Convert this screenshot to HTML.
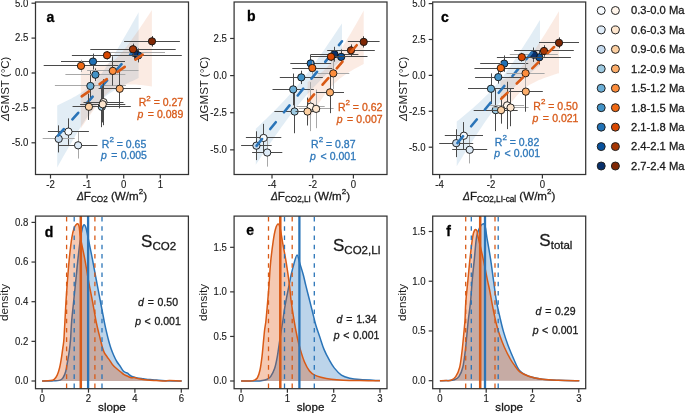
<!DOCTYPE html><html><head><meta charset="utf-8"><style>html,body{margin:0;padding:0;background:#fff;overflow:hidden}svg{display:block;will-change:transform}text{font-family:"Liberation Sans",sans-serif}</style></head><body>
<svg width="685" height="413" viewBox="0 0 685 413">
<rect width="685" height="413" fill="#fff"/>
<clipPath id="clipa"><rect x="35.5" y="2" width="153" height="172.5"/></clipPath>
<g clip-path="url(#clipa)">
<polygon points="57.2,105.41 59.23,104.46 61.27,103.5 63.3,102.52 65.34,101.53 67.38,100.51 69.41,99.47 71.45,98.4 73.48,97.31 75.52,96.17 77.55,94.99 79.59,93.75 81.62,92.45 83.66,91.08 85.69,89.61 87.72,88.04 89.76,86.35 91.8,84.52 93.83,82.53 95.87,80.38 97.9,78.07 99.94,75.58 101.97,72.94 104,70.15 106.04,67.23 108.07,64.19 110.11,61.05 112.14,57.83 114.18,54.54 116.22,51.19 118.25,47.79 120.28,44.35 122.32,40.87 124.36,37.37 126.39,33.83 128.43,30.28 130.46,26.7 132.5,23.11 134.53,19.5 136.56,15.89 138.6,12.26 138.6,78.04 136.56,78.98 134.53,79.92 132.5,80.88 130.46,81.85 128.43,82.84 126.39,83.84 124.36,84.87 122.32,85.93 120.28,87.01 118.25,88.13 116.22,89.3 114.18,90.51 112.14,91.78 110.11,93.12 108.07,94.55 106.04,96.07 104,97.71 101.97,99.49 99.94,101.4 97.9,103.48 95.87,105.73 93.83,108.14 91.8,110.72 89.76,113.45 87.72,116.32 85.69,119.32 83.66,122.41 81.62,125.6 79.59,128.86 77.55,132.19 75.52,135.57 73.48,138.99 71.45,142.46 69.41,145.95 67.38,149.48 65.34,153.02 63.3,156.59 61.27,160.18 59.23,163.78 57.2,167.39" fill="#2171b5" fill-opacity="0.13"/>
<polygon points="80.8,65.6 82.58,65.8 84.36,65.98 86.13,66.13 87.91,66.27 89.69,66.37 91.47,66.44 93.24,66.47 95.02,66.45 96.8,66.38 98.58,66.24 100.35,66.02 102.13,65.72 103.91,65.3 105.69,64.76 107.46,64.08 109.24,63.24 111.02,62.23 112.8,61.04 114.57,59.67 116.35,58.13 118.13,56.42 119.91,54.57 121.68,52.58 123.46,50.49 125.24,48.29 127.02,46.01 128.79,43.67 130.57,41.26 132.35,38.81 134.12,36.31 135.9,33.78 137.68,31.22 139.46,28.63 141.24,26.02 143.01,23.4 144.79,20.75 146.57,18.09 148.34,15.42 150.12,12.73 151.9,10.04 151.9,86.42 150.12,86.16 148.34,85.91 146.57,85.68 144.79,85.46 143.01,85.25 141.24,85.06 139.46,84.89 137.68,84.74 135.9,84.62 134.12,84.52 132.35,84.47 130.57,84.45 128.79,84.49 127.02,84.58 125.24,84.74 123.46,84.99 121.68,85.33 119.91,85.78 118.13,86.36 116.35,87.1 114.57,87.99 112.8,89.06 111.02,90.31 109.24,91.74 107.46,93.34 105.69,95.09 103.91,96.99 102.13,99.02 100.35,101.15 98.58,103.37 96.8,105.67 95.02,108.04 93.24,110.46 91.47,112.93 89.69,115.44 87.91,117.98 86.13,120.55 84.36,123.15 82.58,125.76 80.8,128.4" fill="#d94801" fill-opacity="0.11"/>
<line x1="47.9" y1="131.5" x2="88.9" y2="131.5" stroke="#4a4a4a" stroke-width="1"/>
<line x1="68.5" y1="118.37" x2="68.5" y2="144.89" stroke="#4a4a4a" stroke-width="1"/>
<line x1="58.7" y1="145.5" x2="97.5" y2="145.5" stroke="#4a4a4a" stroke-width="1"/>
<line x1="78.5" y1="132.05" x2="78.5" y2="158.57" stroke="#a8a8a8" stroke-width="1"/>
<line x1="42.7" y1="138.5" x2="74.7" y2="138.5" stroke="#a8a8a8" stroke-width="1"/>
<line x1="58.5" y1="125.35" x2="58.5" y2="152.43" stroke="#4a4a4a" stroke-width="1"/>
<line x1="72.8" y1="106.5" x2="130.8" y2="106.5" stroke="#4a4a4a" stroke-width="1"/>
<line x1="101.5" y1="86.4" x2="101.5" y2="127.16" stroke="#4a4a4a" stroke-width="1"/>
<line x1="54.9" y1="85.5" x2="125.9" y2="85.5" stroke="#a8a8a8" stroke-width="1"/>
<line x1="90.5" y1="71.05" x2="90.5" y2="100.92" stroke="#4a4a4a" stroke-width="1"/>
<line x1="65.4" y1="74.5" x2="125.4" y2="74.5" stroke="#a8a8a8" stroke-width="1"/>
<line x1="95.5" y1="68.39" x2="95.5" y2="80.96" stroke="#4a4a4a" stroke-width="1"/>
<line x1="61" y1="61.5" x2="125" y2="61.5" stroke="#4a4a4a" stroke-width="1"/>
<line x1="93.5" y1="53.6" x2="93.5" y2="69.51" stroke="#4a4a4a" stroke-width="1"/>
<line x1="94.6" y1="55.5" x2="181.8" y2="55.5" stroke="#4a4a4a" stroke-width="1"/>
<line x1="138.5" y1="48.43" x2="138.5" y2="62.39" stroke="#4a4a4a" stroke-width="1"/>
<line x1="104" y1="52.5" x2="165" y2="52.5" stroke="#a8a8a8" stroke-width="1"/>
<line x1="134.5" y1="45.92" x2="134.5" y2="59.88" stroke="#4a4a4a" stroke-width="1"/>
<circle cx="68.4" cy="131.63" r="3.65" fill="#f7fbff" stroke="#111" stroke-width="0.9"/>
<circle cx="78.1" cy="145.31" r="3.65" fill="#deebf7" stroke="#111" stroke-width="0.9"/>
<circle cx="58.7" cy="138.89" r="3.65" fill="#c6dbef" stroke="#111" stroke-width="0.9"/>
<circle cx="101.8" cy="106.78" r="3.65" fill="#9ecae1" stroke="#111" stroke-width="0.9"/>
<circle cx="90.4" cy="85.98" r="3.65" fill="#6baed6" stroke="#111" stroke-width="0.9"/>
<circle cx="95.4" cy="74.68" r="3.65" fill="#4292c6" stroke="#111" stroke-width="0.9"/>
<circle cx="93" cy="61.55" r="3.65" fill="#2171b5" stroke="#111" stroke-width="0.9"/>
<circle cx="138.2" cy="55.41" r="3.65" fill="#08519c" stroke="#111" stroke-width="0.9"/>
<circle cx="134.5" cy="52.9" r="3.65" fill="#08306b" stroke="#111" stroke-width="0.9"/>
<line x1="57.2" y1="136.4" x2="138.6" y2="45.15" stroke="#2a74b8" stroke-width="2.6" stroke-linecap="round" stroke-dasharray="8.8 12.9" stroke-dashoffset="-1.1"/>
<line x1="83.5" y1="102.5" x2="123.5" y2="102.5" stroke="#4a4a4a" stroke-width="1"/>
<line x1="103.5" y1="79.14" x2="103.5" y2="125.21" stroke="#4a4a4a" stroke-width="1"/>
<line x1="80.1" y1="104.5" x2="125.3" y2="104.5" stroke="#4a4a4a" stroke-width="1"/>
<line x1="102.5" y1="86.12" x2="102.5" y2="122.42" stroke="#4a4a4a" stroke-width="1"/>
<line x1="72.7" y1="106.5" x2="105.1" y2="106.5" stroke="#4a4a4a" stroke-width="1"/>
<line x1="88.5" y1="93.66" x2="88.5" y2="119.91" stroke="#4a4a4a" stroke-width="1"/>
<line x1="98.6" y1="88.5" x2="140.8" y2="88.5" stroke="#4a4a4a" stroke-width="1"/>
<line x1="119.5" y1="69.23" x2="119.5" y2="108.32" stroke="#4a4a4a" stroke-width="1"/>
<line x1="87.1" y1="70.5" x2="138.5" y2="70.5" stroke="#a8a8a8" stroke-width="1"/>
<line x1="112.5" y1="56.25" x2="112.5" y2="85.56" stroke="#4a4a4a" stroke-width="1"/>
<line x1="43.7" y1="65.5" x2="118.3" y2="65.5" stroke="#4a4a4a" stroke-width="1"/>
<line x1="81.5" y1="59.74" x2="81.5" y2="72.02" stroke="#a8a8a8" stroke-width="1"/>
<line x1="71.9" y1="55.5" x2="142.1" y2="55.5" stroke="#4a4a4a" stroke-width="1"/>
<line x1="107.5" y1="51.08" x2="107.5" y2="59.46" stroke="#4a4a4a" stroke-width="1"/>
<line x1="90.3" y1="49.5" x2="175.7" y2="49.5" stroke="#4a4a4a" stroke-width="1"/>
<line x1="133.5" y1="43.68" x2="133.5" y2="54.85" stroke="#4a4a4a" stroke-width="1"/>
<line x1="124.1" y1="41.5" x2="179.9" y2="41.5" stroke="#4a4a4a" stroke-width="1"/>
<line x1="152.5" y1="36.01" x2="152.5" y2="46.62" stroke="#4a4a4a" stroke-width="1"/>
<circle cx="103.5" cy="102.18" r="3.65" fill="#fff5eb" stroke="#111" stroke-width="0.9"/>
<circle cx="102.7" cy="104.27" r="3.65" fill="#fee6ce" stroke="#111" stroke-width="0.9"/>
<circle cx="88.9" cy="106.78" r="3.65" fill="#fdd0a2" stroke="#111" stroke-width="0.9"/>
<circle cx="119.7" cy="88.77" r="3.65" fill="#fdae6b" stroke="#111" stroke-width="0.9"/>
<circle cx="112.8" cy="70.91" r="3.65" fill="#fd8d3c" stroke="#111" stroke-width="0.9"/>
<circle cx="81" cy="65.88" r="3.65" fill="#f16913" stroke="#111" stroke-width="0.9"/>
<circle cx="107" cy="55.27" r="3.65" fill="#d94801" stroke="#111" stroke-width="0.9"/>
<circle cx="133" cy="49.27" r="3.65" fill="#a63603" stroke="#111" stroke-width="0.9"/>
<circle cx="152" cy="41.31" r="3.65" fill="#7f2704" stroke="#111" stroke-width="0.9"/>
<line x1="80.8" y1="97" x2="151.9" y2="48.23" stroke="#d95a16" stroke-width="2.6" stroke-linecap="round" stroke-dasharray="8.8 12.9" stroke-dashoffset="-1.1"/>
</g>
<text stroke="#d85b1a" stroke-width="0.3" x="138.7" y="106" fill="#d85b1a" font-size="10.5">R<tspan font-size="8" dy="-5.5">2</tspan><tspan dy="5.5"> = 0.27</tspan></text>
<text stroke="#d85b1a" stroke-width="0.3" x="137.4" y="117.6" fill="#d85b1a" font-size="10.5"><tspan font-style="italic">p</tspan> <tspan dx="1.6">=</tspan> <tspan dx="0.2">0.089</tspan></text>
<text stroke="#2f78ba" stroke-width="0.3" x="101.8" y="147.7" fill="#2f78ba" font-size="10.5">R<tspan font-size="8" dy="-5.5">2</tspan><tspan dy="5.5"> = 0.65</tspan></text>
<text stroke="#2f78ba" stroke-width="0.3" x="101" y="158.7" fill="#2f78ba" font-size="10.5"><tspan font-style="italic">p</tspan> <tspan dx="1.6">=</tspan> <tspan dx="0.2">0.005</tspan></text>
<rect x="35.5" y="2" width="153" height="172.5" fill="none" stroke="#333333" stroke-width="1.25"/>
<line x1="50.5" y1="174.5" x2="50.5" y2="178.5" stroke="#333333" stroke-width="1.2"/>
<text stroke="#1a1a1a" stroke-width="0.12" transform="translate(50.5,188.2) scale(1,1.07)" text-anchor="middle" font-size="9.6" fill="#1a1a1a">-2</text>
<line x1="87.1" y1="174.5" x2="87.1" y2="178.5" stroke="#333333" stroke-width="1.2"/>
<text stroke="#1a1a1a" stroke-width="0.12" transform="translate(87.1,188.2) scale(1,1.07)" text-anchor="middle" font-size="9.6" fill="#1a1a1a">-1</text>
<line x1="123.7" y1="174.5" x2="123.7" y2="178.5" stroke="#333333" stroke-width="1.2"/>
<text stroke="#1a1a1a" stroke-width="0.12" transform="translate(123.7,188.2) scale(1,1.07)" text-anchor="middle" font-size="9.6" fill="#1a1a1a">0</text>
<line x1="160.3" y1="174.5" x2="160.3" y2="178.5" stroke="#333333" stroke-width="1.2"/>
<text stroke="#1a1a1a" stroke-width="0.12" transform="translate(160.3,188.2) scale(1,1.07)" text-anchor="middle" font-size="9.6" fill="#1a1a1a">1</text>
<line x1="31.5" y1="3.2" x2="35.5" y2="3.2" stroke="#333333" stroke-width="1.2"/>
<text stroke="#1a1a1a" stroke-width="0.12" transform="translate(28.3,6.5) scale(1,1.07)" text-anchor="end" font-size="9.6" fill="#1a1a1a">5.0</text>
<line x1="31.5" y1="38.1" x2="35.5" y2="38.1" stroke="#333333" stroke-width="1.2"/>
<text stroke="#1a1a1a" stroke-width="0.12" transform="translate(28.3,41.4) scale(1,1.07)" text-anchor="end" font-size="9.6" fill="#1a1a1a">2.5</text>
<line x1="31.5" y1="73" x2="35.5" y2="73" stroke="#333333" stroke-width="1.2"/>
<text stroke="#1a1a1a" stroke-width="0.12" transform="translate(28.3,76.3) scale(1,1.07)" text-anchor="end" font-size="9.6" fill="#1a1a1a">0.0</text>
<line x1="31.5" y1="107.9" x2="35.5" y2="107.9" stroke="#333333" stroke-width="1.2"/>
<text stroke="#1a1a1a" stroke-width="0.12" transform="translate(28.3,111.2) scale(1,1.07)" text-anchor="end" font-size="9.6" fill="#1a1a1a">-2.5</text>
<line x1="31.5" y1="142.8" x2="35.5" y2="142.8" stroke="#333333" stroke-width="1.2"/>
<text stroke="#1a1a1a" stroke-width="0.12" transform="translate(28.3,146.1) scale(1,1.07)" text-anchor="end" font-size="9.6" fill="#1a1a1a">-5.0</text>
<text stroke="#000" stroke-width="0.3" x="46.5" y="21.8" font-size="14" font-weight="bold" fill="#000">a</text>
<text stroke="#1a1a1a" stroke-width="0.3" x="112" y="200.3" text-anchor="middle" font-size="11.6" fill="#1a1a1a"><tspan font-style="italic" font-size="10.2">Δ</tspan>F<tspan font-size="8.2" dy="1.6">CO2</tspan><tspan dy="-1.6"> (W/m</tspan><tspan font-size="8" dy="-6">2</tspan><tspan dy="6">)</tspan></text>
<text transform="translate(9.4,88.85) rotate(-90)" text-anchor="middle" font-size="11.5" fill="#1a1a1a"><tspan font-style="italic">Δ</tspan>GMST (°C)</text>
<clipPath id="clipb"><rect x="234.1" y="2" width="152.9" height="172.5"/></clipPath>
<g clip-path="url(#clipb)">
<polygon points="255.8,128.75 257.95,126.71 260.11,124.67 262.26,122.61 264.42,120.54 266.57,118.46 268.73,116.35 270.88,114.23 273.04,112.09 275.19,109.93 277.35,107.74 279.5,105.52 281.66,103.28 283.81,100.99 285.97,98.67 288.12,96.31 290.28,93.91 292.44,91.45 294.59,88.95 296.75,86.4 298.9,83.79 301.06,81.13 303.21,78.42 305.37,75.65 307.52,72.84 309.68,69.98 311.83,67.07 313.99,64.13 316.14,61.14 318.3,58.12 320.45,55.07 322.61,51.99 324.76,48.88 326.91,45.76 329.07,42.61 331.23,39.44 333.38,36.25 335.53,33.05 337.69,29.84 339.85,26.62 342,23.38 342,59.18 339.85,61.21 337.69,63.26 335.53,65.31 333.38,67.39 331.23,69.47 329.07,71.57 326.91,73.7 324.76,75.84 322.61,78 320.45,80.2 318.3,82.42 316.14,84.67 313.99,86.95 311.83,89.28 309.68,91.64 307.52,94.05 305.37,96.51 303.21,99.02 301.06,101.58 298.9,104.19 296.75,106.85 294.59,109.57 292.44,112.34 290.28,115.16 288.12,118.02 285.97,120.93 283.81,123.88 281.66,126.87 279.5,129.89 277.35,132.95 275.19,136.03 273.04,139.14 270.88,142.27 268.73,145.42 266.57,148.59 264.42,151.78 262.26,154.98 260.11,158.19 257.95,161.42 255.8,164.65" fill="#2171b5" fill-opacity="0.13"/>
<polygon points="307.6,82.03 309,81.19 310.41,80.34 311.81,79.46 313.21,78.55 314.61,77.62 316.02,76.65 317.42,75.64 318.82,74.59 320.22,73.5 321.62,72.35 323.03,71.14 324.43,69.87 325.83,68.52 327.24,67.1 328.64,65.61 330.04,64.03 331.44,62.37 332.85,60.63 334.25,58.81 335.65,56.91 337.05,54.95 338.45,52.92 339.86,50.83 341.26,48.69 342.66,46.5 344.06,44.27 345.47,42 346.87,39.7 348.27,37.37 349.68,35.01 351.08,32.64 352.48,30.24 353.88,27.82 355.28,25.39 356.69,22.94 358.09,20.48 359.49,18.01 360.89,15.53 362.3,13.04 363.7,10.54 363.7,63.9 362.3,64.63 360.89,65.38 359.49,66.13 358.09,66.89 356.69,67.67 355.28,68.45 353.88,69.25 352.48,70.07 351.08,70.9 349.68,71.76 348.27,72.64 346.87,73.54 345.47,74.48 344.06,75.44 342.66,76.45 341.26,77.49 339.86,78.58 338.45,79.73 337.05,80.94 335.65,82.21 334.25,83.55 332.85,84.96 331.44,86.45 330.04,88.03 328.64,89.68 327.24,91.42 325.83,93.23 324.43,95.12 323.03,97.09 321.62,99.11 320.22,101.2 318.82,103.33 317.42,105.52 316.02,107.75 314.61,110.01 313.21,112.31 311.81,114.64 310.41,117 309,119.37 307.6,121.77" fill="#d94801" fill-opacity="0.11"/>
<line x1="245.9" y1="137.5" x2="281.3" y2="137.5" stroke="#4a4a4a" stroke-width="1"/>
<line x1="263.5" y1="123.86" x2="263.5" y2="152.08" stroke="#4a4a4a" stroke-width="1"/>
<line x1="252.1" y1="152.5" x2="282.3" y2="152.5" stroke="#4a4a4a" stroke-width="1"/>
<line x1="267.5" y1="138.42" x2="267.5" y2="166.63" stroke="#a8a8a8" stroke-width="1"/>
<line x1="241.1" y1="145.5" x2="271.7" y2="145.5" stroke="#4a4a4a" stroke-width="1"/>
<line x1="256.5" y1="131.29" x2="256.5" y2="160.1" stroke="#4a4a4a" stroke-width="1"/>
<line x1="274.4" y1="111.5" x2="314.8" y2="111.5" stroke="#4a4a4a" stroke-width="1"/>
<line x1="294.5" y1="89.86" x2="294.5" y2="133.22" stroke="#4a4a4a" stroke-width="1"/>
<line x1="272.5" y1="89.5" x2="313.9" y2="89.5" stroke="#4a4a4a" stroke-width="1"/>
<line x1="293.5" y1="73.52" x2="293.5" y2="105.3" stroke="#4a4a4a" stroke-width="1"/>
<line x1="279.8" y1="77.5" x2="322.8" y2="77.5" stroke="#4a4a4a" stroke-width="1"/>
<line x1="301.5" y1="70.7" x2="301.5" y2="84.06" stroke="#4a4a4a" stroke-width="1"/>
<line x1="290.3" y1="63.5" x2="331.1" y2="63.5" stroke="#4a4a4a" stroke-width="1"/>
<line x1="310.5" y1="54.96" x2="310.5" y2="71.89" stroke="#4a4a4a" stroke-width="1"/>
<line x1="314.9" y1="56.5" x2="367.5" y2="56.5" stroke="#4a4a4a" stroke-width="1"/>
<line x1="341.5" y1="49.46" x2="341.5" y2="64.31" stroke="#4a4a4a" stroke-width="1"/>
<line x1="310.4" y1="54.5" x2="358.4" y2="54.5" stroke="#4a4a4a" stroke-width="1"/>
<line x1="334.5" y1="46.79" x2="334.5" y2="61.64" stroke="#4a4a4a" stroke-width="1"/>
<circle cx="263.6" cy="137.97" r="3.65" fill="#f7fbff" stroke="#111" stroke-width="0.9"/>
<circle cx="267.2" cy="152.52" r="3.65" fill="#deebf7" stroke="#111" stroke-width="0.9"/>
<circle cx="256.4" cy="145.69" r="3.65" fill="#c6dbef" stroke="#111" stroke-width="0.9"/>
<circle cx="294.6" cy="111.54" r="3.65" fill="#9ecae1" stroke="#111" stroke-width="0.9"/>
<circle cx="293.2" cy="89.41" r="3.65" fill="#6baed6" stroke="#111" stroke-width="0.9"/>
<circle cx="301.3" cy="77.38" r="3.65" fill="#4292c6" stroke="#111" stroke-width="0.9"/>
<circle cx="310.7" cy="63.42" r="3.65" fill="#2171b5" stroke="#111" stroke-width="0.9"/>
<circle cx="341.2" cy="56.89" r="3.65" fill="#08519c" stroke="#111" stroke-width="0.9"/>
<circle cx="334.4" cy="54.22" r="3.65" fill="#08306b" stroke="#111" stroke-width="0.9"/>
<line x1="255.8" y1="146.7" x2="342" y2="41.28" stroke="#2a74b8" stroke-width="2.6" stroke-linecap="round" stroke-dasharray="8.8 12.9" stroke-dashoffset="-1.1"/>
<line x1="296.7" y1="106.5" x2="324.7" y2="106.5" stroke="#a8a8a8" stroke-width="1"/>
<line x1="310.5" y1="82.13" x2="310.5" y2="131.14" stroke="#a8a8a8" stroke-width="1"/>
<line x1="298.6" y1="108.5" x2="333.6" y2="108.5" stroke="#a8a8a8" stroke-width="1"/>
<line x1="316.5" y1="89.56" x2="316.5" y2="128.17" stroke="#a8a8a8" stroke-width="1"/>
<line x1="295.5" y1="111.5" x2="319.5" y2="111.5" stroke="#4a4a4a" stroke-width="1"/>
<line x1="307.5" y1="97.58" x2="307.5" y2="125.5" stroke="#4a4a4a" stroke-width="1"/>
<line x1="316" y1="92.5" x2="344" y2="92.5" stroke="#4a4a4a" stroke-width="1"/>
<line x1="330.5" y1="71.59" x2="330.5" y2="113.17" stroke="#4a4a4a" stroke-width="1"/>
<line x1="317.3" y1="73.5" x2="349.3" y2="73.5" stroke="#a8a8a8" stroke-width="1"/>
<line x1="333.5" y1="57.78" x2="333.5" y2="88.96" stroke="#a8a8a8" stroke-width="1"/>
<line x1="292.3" y1="68.5" x2="332.3" y2="68.5" stroke="#4a4a4a" stroke-width="1"/>
<line x1="312.5" y1="61.49" x2="312.5" y2="74.56" stroke="#a8a8a8" stroke-width="1"/>
<line x1="311" y1="56.5" x2="351" y2="56.5" stroke="#4a4a4a" stroke-width="1"/>
<line x1="331.5" y1="52.29" x2="331.5" y2="61.2" stroke="#4a4a4a" stroke-width="1"/>
<line x1="327.2" y1="50.5" x2="374.8" y2="50.5" stroke="#4a4a4a" stroke-width="1"/>
<line x1="351.5" y1="44.41" x2="351.5" y2="56.29" stroke="#4a4a4a" stroke-width="1"/>
<line x1="347.8" y1="41.5" x2="379.6" y2="41.5" stroke="#4a4a4a" stroke-width="1"/>
<line x1="363.5" y1="36.25" x2="363.5" y2="47.53" stroke="#4a4a4a" stroke-width="1"/>
<circle cx="310.7" cy="106.64" r="3.65" fill="#fff5eb" stroke="#111" stroke-width="0.9"/>
<circle cx="316.1" cy="108.86" r="3.65" fill="#fee6ce" stroke="#111" stroke-width="0.9"/>
<circle cx="307.5" cy="111.54" r="3.65" fill="#fdd0a2" stroke="#111" stroke-width="0.9"/>
<circle cx="330" cy="92.38" r="3.65" fill="#fdae6b" stroke="#111" stroke-width="0.9"/>
<circle cx="333.3" cy="73.37" r="3.65" fill="#fd8d3c" stroke="#111" stroke-width="0.9"/>
<circle cx="312.3" cy="68.03" r="3.65" fill="#f16913" stroke="#111" stroke-width="0.9"/>
<circle cx="331" cy="56.74" r="3.65" fill="#d94801" stroke="#111" stroke-width="0.9"/>
<circle cx="351" cy="50.35" r="3.65" fill="#a63603" stroke="#111" stroke-width="0.9"/>
<circle cx="363.7" cy="41.89" r="3.65" fill="#7f2704" stroke="#111" stroke-width="0.9"/>
<line x1="307.6" y1="101.9" x2="363.7" y2="37.22" stroke="#d95a16" stroke-width="2.6" stroke-linecap="round" stroke-dasharray="8.8 12.9" stroke-dashoffset="-1.1"/>
</g>
<text stroke="#d85b1a" stroke-width="0.3" x="337.9" y="110.6" fill="#d85b1a" font-size="10.5">R<tspan font-size="8" dy="-5.5">2</tspan><tspan dy="5.5"> = 0.62</tspan></text>
<text stroke="#d85b1a" stroke-width="0.3" x="336.7" y="122.5" fill="#d85b1a" font-size="10.5"><tspan font-style="italic">p</tspan> <tspan dx="1.6">=</tspan> <tspan dx="0.2">0.007</tspan></text>
<text stroke="#2f78ba" stroke-width="0.3" x="311.1" y="147.8" fill="#2f78ba" font-size="10.5">R<tspan font-size="8" dy="-5.5">2</tspan><tspan dy="5.5"> = 0.87</tspan></text>
<text stroke="#2f78ba" stroke-width="0.3" x="310.1" y="159.8" fill="#2f78ba" font-size="10.5"><tspan font-style="italic">p</tspan> <tspan dx="1.6">&lt;</tspan> <tspan dx="0.2">0.001</tspan></text>
<rect x="234.1" y="2" width="152.9" height="172.5" fill="none" stroke="#333333" stroke-width="1.25"/>
<line x1="272" y1="174.5" x2="272" y2="178.5" stroke="#333333" stroke-width="1.2"/>
<text stroke="#1a1a1a" stroke-width="0.12" transform="translate(272,188.2) scale(1,1.07)" text-anchor="middle" font-size="9.6" fill="#1a1a1a">-4</text>
<line x1="312.7" y1="174.5" x2="312.7" y2="178.5" stroke="#333333" stroke-width="1.2"/>
<text stroke="#1a1a1a" stroke-width="0.12" transform="translate(312.7,188.2) scale(1,1.07)" text-anchor="middle" font-size="9.6" fill="#1a1a1a">-2</text>
<line x1="353.4" y1="174.5" x2="353.4" y2="178.5" stroke="#333333" stroke-width="1.2"/>
<text stroke="#1a1a1a" stroke-width="0.12" transform="translate(353.4,188.2) scale(1,1.07)" text-anchor="middle" font-size="9.6" fill="#1a1a1a">0</text>
<line x1="230.1" y1="38.47" x2="234.1" y2="38.47" stroke="#333333" stroke-width="1.2"/>
<text stroke="#1a1a1a" stroke-width="0.12" transform="translate(226.9,41.77) scale(1,1.07)" text-anchor="end" font-size="9.6" fill="#1a1a1a">2.5</text>
<line x1="230.1" y1="75.6" x2="234.1" y2="75.6" stroke="#333333" stroke-width="1.2"/>
<text stroke="#1a1a1a" stroke-width="0.12" transform="translate(226.9,78.9) scale(1,1.07)" text-anchor="end" font-size="9.6" fill="#1a1a1a">0.0</text>
<line x1="230.1" y1="112.72" x2="234.1" y2="112.72" stroke="#333333" stroke-width="1.2"/>
<text stroke="#1a1a1a" stroke-width="0.12" transform="translate(226.9,116.02) scale(1,1.07)" text-anchor="end" font-size="9.6" fill="#1a1a1a">-2.5</text>
<line x1="230.1" y1="149.85" x2="234.1" y2="149.85" stroke="#333333" stroke-width="1.2"/>
<text stroke="#1a1a1a" stroke-width="0.12" transform="translate(226.9,153.15) scale(1,1.07)" text-anchor="end" font-size="9.6" fill="#1a1a1a">-5.0</text>
<text stroke="#000" stroke-width="0.3" x="247" y="21" font-size="14" font-weight="bold" fill="#000">b</text>
<text stroke="#1a1a1a" stroke-width="0.3" x="310.55" y="200.3" text-anchor="middle" font-size="11.6" fill="#1a1a1a"><tspan font-style="italic" font-size="10.2">Δ</tspan>F<tspan font-size="8.2" dy="1.6">CO2,LI</tspan><tspan dy="-1.6"> (W/m</tspan><tspan font-size="8" dy="-6">2</tspan><tspan dy="6">)</tspan></text>
<text transform="translate(208,88.85) rotate(-90)" text-anchor="middle" font-size="11.5" fill="#1a1a1a"><tspan font-style="italic">Δ</tspan>GMST (°C)</text>
<clipPath id="clipc"><rect x="432.7" y="2" width="153" height="172.5"/></clipPath>
<g clip-path="url(#clipc)">
<polygon points="456.7,121.62 458.78,119.93 460.87,118.23 462.95,116.52 465.03,114.78 467.11,113.04 469.19,111.27 471.28,109.48 473.36,107.67 475.44,105.83 477.52,103.95 479.61,102.04 481.69,100.09 483.77,98.09 485.86,96.03 487.94,93.91 490.02,91.73 492.1,89.47 494.19,87.14 496.27,84.72 498.35,82.21 500.43,79.62 502.51,76.94 504.6,74.18 506.68,71.35 508.76,68.44 510.84,65.46 512.93,62.43 515.01,59.35 517.09,56.22 519.17,53.05 521.26,49.84 523.34,46.6 525.42,43.34 527.5,40.05 529.59,36.74 531.67,33.42 533.75,30.07 535.84,26.71 537.92,23.34 540,19.96 540,65.09 537.92,66.77 535.84,68.47 533.75,70.18 531.67,71.91 529.59,73.65 527.5,75.41 525.42,77.19 523.34,78.99 521.26,80.83 519.17,82.69 517.09,84.59 515.01,86.53 512.93,88.51 510.84,90.55 508.76,92.64 506.68,94.8 504.6,97.04 502.51,99.35 500.43,101.74 498.35,104.21 496.27,106.78 494.19,109.43 492.1,112.16 490.02,114.97 487.94,117.85 485.86,120.81 483.77,123.82 481.69,126.89 479.61,130 477.52,133.16 475.44,136.35 473.36,139.58 471.28,142.84 469.19,146.12 467.11,149.42 465.03,152.74 462.95,156.08 460.87,159.43 458.78,162.8 456.7,166.18" fill="#2171b5" fill-opacity="0.13"/>
<polygon points="500.5,80.84 501.96,80.21 503.43,79.56 504.89,78.87 506.35,78.14 507.81,77.38 509.27,76.56 510.74,75.68 512.2,74.74 513.66,73.73 515.12,72.65 516.59,71.48 518.05,70.22 519.51,68.86 520.98,67.41 522.44,65.87 523.9,64.23 525.36,62.51 526.83,60.7 528.29,58.82 529.75,56.87 531.21,54.86 532.67,52.79 534.14,50.68 535.6,48.53 537.06,46.34 538.52,44.12 539.99,41.87 541.45,39.59 542.91,37.3 544.38,34.98 545.84,32.65 547.3,30.31 548.76,27.95 550.23,25.58 551.69,23.2 553.15,20.81 554.61,18.41 556.08,16 557.54,13.59 559,11.17 559,73.17 557.54,73.61 556.08,74.07 554.61,74.53 553.15,75 551.69,75.47 550.23,75.96 548.76,76.46 547.3,76.96 545.84,77.49 544.38,78.02 542.91,78.57 541.45,79.14 539.99,79.74 538.52,80.35 537.06,81 535.6,81.68 534.14,82.39 532.67,83.14 531.21,83.95 529.75,84.8 528.29,85.72 526.83,86.7 525.36,87.76 523.9,88.9 522.44,90.13 520.98,91.46 519.51,92.87 518.05,94.39 516.59,95.99 515.12,97.69 513.66,99.47 512.2,101.33 510.74,103.25 509.27,105.25 507.81,107.29 506.35,109.39 504.89,111.53 503.43,113.71 501.96,115.92 500.5,118.16" fill="#d94801" fill-opacity="0.11"/>
<line x1="444.8" y1="135.5" x2="483" y2="135.5" stroke="#4a4a4a" stroke-width="1"/>
<line x1="463.5" y1="122.07" x2="463.5" y2="149.35" stroke="#4a4a4a" stroke-width="1"/>
<line x1="452.2" y1="149.5" x2="487.2" y2="149.5" stroke="#4a4a4a" stroke-width="1"/>
<line x1="469.5" y1="136.14" x2="469.5" y2="163.43" stroke="#a8a8a8" stroke-width="1"/>
<line x1="439.2" y1="143.5" x2="473.2" y2="143.5" stroke="#4a4a4a" stroke-width="1"/>
<line x1="456.5" y1="129.25" x2="456.5" y2="157.11" stroke="#4a4a4a" stroke-width="1"/>
<line x1="473.7" y1="110.5" x2="517.7" y2="110.5" stroke="#4a4a4a" stroke-width="1"/>
<line x1="495.5" y1="89.19" x2="495.5" y2="131.12" stroke="#4a4a4a" stroke-width="1"/>
<line x1="468" y1="88.5" x2="514" y2="88.5" stroke="#4a4a4a" stroke-width="1"/>
<line x1="491.5" y1="73.39" x2="491.5" y2="104.12" stroke="#4a4a4a" stroke-width="1"/>
<line x1="475.1" y1="77.5" x2="521.5" y2="77.5" stroke="#4a4a4a" stroke-width="1"/>
<line x1="498.5" y1="70.66" x2="498.5" y2="83.59" stroke="#4a4a4a" stroke-width="1"/>
<line x1="480.2" y1="63.5" x2="528.2" y2="63.5" stroke="#4a4a4a" stroke-width="1"/>
<line x1="504.5" y1="55.44" x2="504.5" y2="71.81" stroke="#4a4a4a" stroke-width="1"/>
<line x1="507.7" y1="57.5" x2="570.9" y2="57.5" stroke="#4a4a4a" stroke-width="1"/>
<line x1="539.5" y1="50.13" x2="539.5" y2="64.49" stroke="#4a4a4a" stroke-width="1"/>
<line x1="509.8" y1="54.5" x2="557.8" y2="54.5" stroke="#a8a8a8" stroke-width="1"/>
<line x1="533.5" y1="47.54" x2="533.5" y2="61.9" stroke="#4a4a4a" stroke-width="1"/>
<circle cx="463.9" cy="135.71" r="3.65" fill="#f7fbff" stroke="#111" stroke-width="0.9"/>
<circle cx="469.7" cy="149.78" r="3.65" fill="#deebf7" stroke="#111" stroke-width="0.9"/>
<circle cx="456.2" cy="143.18" r="3.65" fill="#c6dbef" stroke="#111" stroke-width="0.9"/>
<circle cx="495.7" cy="110.15" r="3.65" fill="#9ecae1" stroke="#111" stroke-width="0.9"/>
<circle cx="491" cy="88.75" r="3.65" fill="#6baed6" stroke="#111" stroke-width="0.9"/>
<circle cx="498.3" cy="77.12" r="3.65" fill="#4292c6" stroke="#111" stroke-width="0.9"/>
<circle cx="504.2" cy="63.62" r="3.65" fill="#2171b5" stroke="#111" stroke-width="0.9"/>
<circle cx="539.3" cy="57.31" r="3.65" fill="#08519c" stroke="#111" stroke-width="0.9"/>
<circle cx="533.8" cy="54.72" r="3.65" fill="#08306b" stroke="#111" stroke-width="0.9"/>
<line x1="456.7" y1="143.9" x2="540" y2="42.52" stroke="#2a74b8" stroke-width="2.6" stroke-linecap="round" stroke-dasharray="8.8 12.9" stroke-dashoffset="-1.1"/>
<line x1="490.1" y1="105.5" x2="524.1" y2="105.5" stroke="#a8a8a8" stroke-width="1"/>
<line x1="507.5" y1="81.72" x2="507.5" y2="129.11" stroke="#4a4a4a" stroke-width="1"/>
<line x1="492.6" y1="107.5" x2="528.6" y2="107.5" stroke="#a8a8a8" stroke-width="1"/>
<line x1="510.5" y1="88.9" x2="510.5" y2="126.23" stroke="#4a4a4a" stroke-width="1"/>
<line x1="487.1" y1="110.5" x2="515.1" y2="110.5" stroke="#4a4a4a" stroke-width="1"/>
<line x1="501.5" y1="96.65" x2="501.5" y2="123.65" stroke="#4a4a4a" stroke-width="1"/>
<line x1="508.8" y1="91.5" x2="542.8" y2="91.5" stroke="#4a4a4a" stroke-width="1"/>
<line x1="525.5" y1="71.52" x2="525.5" y2="111.73" stroke="#4a4a4a" stroke-width="1"/>
<line x1="506.6" y1="73.5" x2="544.6" y2="73.5" stroke="#a8a8a8" stroke-width="1"/>
<line x1="525.5" y1="58.17" x2="525.5" y2="88.32" stroke="#a8a8a8" stroke-width="1"/>
<line x1="474.4" y1="68.5" x2="527.2" y2="68.5" stroke="#4a4a4a" stroke-width="1"/>
<line x1="500.5" y1="61.76" x2="500.5" y2="74.39" stroke="#a8a8a8" stroke-width="1"/>
<line x1="496.9" y1="57.5" x2="546.7" y2="57.5" stroke="#4a4a4a" stroke-width="1"/>
<line x1="521.5" y1="52.85" x2="521.5" y2="61.47" stroke="#4a4a4a" stroke-width="1"/>
<line x1="514.2" y1="50.5" x2="573.8" y2="50.5" stroke="#4a4a4a" stroke-width="1"/>
<line x1="544.5" y1="45.24" x2="544.5" y2="56.73" stroke="#4a4a4a" stroke-width="1"/>
<line x1="539" y1="42.5" x2="579" y2="42.5" stroke="#4a4a4a" stroke-width="1"/>
<line x1="559.5" y1="37.35" x2="559.5" y2="48.26" stroke="#4a4a4a" stroke-width="1"/>
<circle cx="507.1" cy="105.41" r="3.65" fill="#fff5eb" stroke="#111" stroke-width="0.9"/>
<circle cx="510.6" cy="107.57" r="3.65" fill="#fee6ce" stroke="#111" stroke-width="0.9"/>
<circle cx="501.1" cy="110.15" r="3.65" fill="#fdd0a2" stroke="#111" stroke-width="0.9"/>
<circle cx="525.8" cy="91.63" r="3.65" fill="#fdae6b" stroke="#111" stroke-width="0.9"/>
<circle cx="525.6" cy="73.25" r="3.65" fill="#fd8d3c" stroke="#111" stroke-width="0.9"/>
<circle cx="500.8" cy="68.08" r="3.65" fill="#f16913" stroke="#111" stroke-width="0.9"/>
<circle cx="521.8" cy="57.16" r="3.65" fill="#d94801" stroke="#111" stroke-width="0.9"/>
<circle cx="544" cy="50.99" r="3.65" fill="#a63603" stroke="#111" stroke-width="0.9"/>
<circle cx="559" cy="42.8" r="3.65" fill="#7f2704" stroke="#111" stroke-width="0.9"/>
<line x1="500.5" y1="99.5" x2="559" y2="42.17" stroke="#d95a16" stroke-width="2.6" stroke-linecap="round" stroke-dasharray="8.8 12.9" stroke-dashoffset="-1.1"/>
</g>
<text stroke="#d85b1a" stroke-width="0.3" x="533.3" y="109.8" fill="#d85b1a" font-size="10.5">R<tspan font-size="8" dy="-5.5">2</tspan><tspan dy="5.5"> = 0.50</tspan></text>
<text stroke="#d85b1a" stroke-width="0.3" x="532.5" y="121.8" fill="#d85b1a" font-size="10.5"><tspan font-style="italic">p</tspan> <tspan dx="1.6">=</tspan> <tspan dx="0.2">0.021</tspan></text>
<text stroke="#2f78ba" stroke-width="0.3" x="494.8" y="145.8" fill="#2f78ba" font-size="10.5">R<tspan font-size="8" dy="-5.5">2</tspan><tspan dy="5.5"> = 0.82</tspan></text>
<text stroke="#2f78ba" stroke-width="0.3" x="494.2" y="157.3" fill="#2f78ba" font-size="10.5"><tspan font-style="italic">p</tspan> <tspan dx="1.6">&lt;</tspan> <tspan dx="0.2">0.001</tspan></text>
<rect x="432.7" y="2" width="153" height="172.5" fill="none" stroke="#333333" stroke-width="1.25"/>
<line x1="439.6" y1="174.5" x2="439.6" y2="178.5" stroke="#333333" stroke-width="1.2"/>
<text stroke="#1a1a1a" stroke-width="0.12" transform="translate(439.6,188.2) scale(1,1.07)" text-anchor="middle" font-size="9.6" fill="#1a1a1a">-4</text>
<line x1="491" y1="174.5" x2="491" y2="178.5" stroke="#333333" stroke-width="1.2"/>
<text stroke="#1a1a1a" stroke-width="0.12" transform="translate(491,188.2) scale(1,1.07)" text-anchor="middle" font-size="9.6" fill="#1a1a1a">-2</text>
<line x1="542.4" y1="174.5" x2="542.4" y2="178.5" stroke="#333333" stroke-width="1.2"/>
<text stroke="#1a1a1a" stroke-width="0.12" transform="translate(542.4,188.2) scale(1,1.07)" text-anchor="middle" font-size="9.6" fill="#1a1a1a">0</text>
<line x1="428.7" y1="3.6" x2="432.7" y2="3.6" stroke="#333333" stroke-width="1.2"/>
<text stroke="#1a1a1a" stroke-width="0.12" transform="translate(425.5,6.9) scale(1,1.07)" text-anchor="end" font-size="9.6" fill="#1a1a1a">5.0</text>
<line x1="428.7" y1="39.5" x2="432.7" y2="39.5" stroke="#333333" stroke-width="1.2"/>
<text stroke="#1a1a1a" stroke-width="0.12" transform="translate(425.5,42.8) scale(1,1.07)" text-anchor="end" font-size="9.6" fill="#1a1a1a">2.5</text>
<line x1="428.7" y1="75.4" x2="432.7" y2="75.4" stroke="#333333" stroke-width="1.2"/>
<text stroke="#1a1a1a" stroke-width="0.12" transform="translate(425.5,78.7) scale(1,1.07)" text-anchor="end" font-size="9.6" fill="#1a1a1a">0.0</text>
<line x1="428.7" y1="111.3" x2="432.7" y2="111.3" stroke="#333333" stroke-width="1.2"/>
<text stroke="#1a1a1a" stroke-width="0.12" transform="translate(425.5,114.6) scale(1,1.07)" text-anchor="end" font-size="9.6" fill="#1a1a1a">-2.5</text>
<line x1="428.7" y1="147.2" x2="432.7" y2="147.2" stroke="#333333" stroke-width="1.2"/>
<text stroke="#1a1a1a" stroke-width="0.12" transform="translate(425.5,150.5) scale(1,1.07)" text-anchor="end" font-size="9.6" fill="#1a1a1a">-5.0</text>
<text stroke="#000" stroke-width="0.3" x="441" y="22.4" font-size="14" font-weight="bold" fill="#000">c</text>
<text stroke="#1a1a1a" stroke-width="0.3" x="509.2" y="200.3" text-anchor="middle" font-size="11.6" fill="#1a1a1a"><tspan font-style="italic" font-size="10.2">Δ</tspan>F<tspan font-size="8.2" dy="1.6">CO2,LI-cal</tspan><tspan dy="-1.6"> (W/m</tspan><tspan font-size="8" dy="-6">2</tspan><tspan dy="6">)</tspan></text>
<text transform="translate(406.6,88.85) rotate(-90)" text-anchor="middle" font-size="11.5" fill="#1a1a1a"><tspan font-style="italic">Δ</tspan>GMST (°C)</text>
<clipPath id="clipd"><rect x="35.5" y="216.1" width="152.9" height="172.6"/></clipPath>
<g clip-path="url(#clipd)">
<path d="M42.1,381 C43.75,380.98 48.98,381.05 52,380.9 C55.02,380.75 58.33,380.67 60.2,380.1 C62.07,379.53 62.28,378.93 63.2,377.5 C64.12,376.07 64.98,374.12 65.7,371.5 C66.42,368.88 66.9,365.23 67.5,361.8 C68.1,358.37 68.8,354.53 69.3,350.9 C69.8,347.27 70.12,344.85 70.5,340 C70.88,335.15 71.1,327.97 71.6,321.8 C72.1,315.63 72.82,309.73 73.5,303 C74.18,296.27 74.97,288.63 75.7,281.4 C76.43,274.17 77.1,266.87 77.9,259.6 C78.7,252.33 79.78,242.9 80.5,237.8 C81.22,232.7 81.62,231.17 82.2,229 C82.78,226.83 83.37,224.97 84,224.8 C84.63,224.63 85.32,225.83 86,228 C86.68,230.17 87.02,232.53 88.1,237.8 C89.18,243.07 91.13,252.57 92.5,259.6 C93.87,266.63 94.93,272.77 96.3,280 C97.67,287.23 99.58,297.17 100.7,303 C101.82,308.83 102.38,311.78 103,315 C103.62,318.22 103.8,319.4 104.4,322.3 C105,325.2 105.87,329.25 106.6,332.4 C107.33,335.55 108.07,338.53 108.8,341.2 C109.53,343.87 110.15,345.98 111,348.4 C111.85,350.82 112.93,353.52 113.9,355.7 C114.87,357.88 115.72,359.68 116.8,361.5 C117.88,363.32 119.32,365.02 120.4,366.6 C121.48,368.18 122.45,370.03 123.3,371 C124.15,371.97 124.8,372.03 125.5,372.4 C126.2,372.77 126.88,372.83 127.5,373.2 C128.12,373.57 128.45,374.05 129.2,374.6 C129.95,375.15 130.65,375.93 132,376.5 C133.35,377.07 135.4,377.62 137.3,378 C139.2,378.38 141.28,378.53 143.4,378.8 C145.52,379.07 147.85,379.38 150,379.6 C152.15,379.82 153.8,379.92 156.3,380.1 C158.8,380.28 160.77,380.55 165,380.7 C169.23,380.85 178.92,380.95 181.7,381 L181.7,381 L42.1,381 Z" fill="#2070b9" fill-opacity="0.3" stroke="none"/>
<path d="M42.1,381 C43.75,380.98 48.98,381.05 52,380.9 C55.02,380.75 58.33,380.67 60.2,380.1 C62.07,379.53 62.28,378.93 63.2,377.5 C64.12,376.07 64.98,374.12 65.7,371.5 C66.42,368.88 66.9,365.23 67.5,361.8 C68.1,358.37 68.8,354.53 69.3,350.9 C69.8,347.27 70.12,344.85 70.5,340 C70.88,335.15 71.1,327.97 71.6,321.8 C72.1,315.63 72.82,309.73 73.5,303 C74.18,296.27 74.97,288.63 75.7,281.4 C76.43,274.17 77.1,266.87 77.9,259.6 C78.7,252.33 79.78,242.9 80.5,237.8 C81.22,232.7 81.62,231.17 82.2,229 C82.78,226.83 83.37,224.97 84,224.8 C84.63,224.63 85.32,225.83 86,228 C86.68,230.17 87.02,232.53 88.1,237.8 C89.18,243.07 91.13,252.57 92.5,259.6 C93.87,266.63 94.93,272.77 96.3,280 C97.67,287.23 99.58,297.17 100.7,303 C101.82,308.83 102.38,311.78 103,315 C103.62,318.22 103.8,319.4 104.4,322.3 C105,325.2 105.87,329.25 106.6,332.4 C107.33,335.55 108.07,338.53 108.8,341.2 C109.53,343.87 110.15,345.98 111,348.4 C111.85,350.82 112.93,353.52 113.9,355.7 C114.87,357.88 115.72,359.68 116.8,361.5 C117.88,363.32 119.32,365.02 120.4,366.6 C121.48,368.18 122.45,370.03 123.3,371 C124.15,371.97 124.8,372.03 125.5,372.4 C126.2,372.77 126.88,372.83 127.5,373.2 C128.12,373.57 128.45,374.05 129.2,374.6 C129.95,375.15 130.65,375.93 132,376.5 C133.35,377.07 135.4,377.62 137.3,378 C139.2,378.38 141.28,378.53 143.4,378.8 C145.52,379.07 147.85,379.38 150,379.6 C152.15,379.82 153.8,379.92 156.3,380.1 C158.8,380.28 160.77,380.55 165,380.7 C169.23,380.85 178.92,380.95 181.7,381" fill="none" stroke="#2a74b8" stroke-width="1.5"/>
<path d="M42.1,381 C43.5,380.93 48.48,380.88 50.5,380.6 C52.52,380.32 53.08,380.22 54.2,379.3 C55.32,378.38 56.3,377.02 57.2,375.1 C58.1,373.18 58.9,370.62 59.6,367.8 C60.3,364.98 60.85,361.62 61.4,358.2 C61.95,354.78 62.47,350.67 62.9,347.3 C63.33,343.93 63.5,345.38 64,338 C64.5,330.62 65.33,312.43 65.9,303 C66.47,293.57 66.85,288.63 67.4,281.4 C67.95,274.17 68.47,266.87 69.2,259.6 C69.93,252.33 71,242.98 71.8,237.8 C72.6,232.62 73.17,230.8 74,228.5 C74.83,226.2 75.97,224.42 76.8,224 C77.63,223.58 78.38,223.7 79,226 C79.62,228.3 79.52,232.2 80.5,237.8 C81.48,243.4 83.55,252.33 84.9,259.6 C86.25,266.87 87.28,274.17 88.6,281.4 C89.92,288.63 91.62,296.67 92.8,303 C93.98,309.33 94.85,314.98 95.7,319.4 C96.55,323.82 97.17,326.35 97.9,329.5 C98.63,332.65 99.37,335.38 100.1,338.3 C100.83,341.22 101.58,344.58 102.3,347 C103.02,349.42 103.55,351.1 104.4,352.8 C105.25,354.5 106.55,355.98 107.4,357.2 C108.25,358.42 108.67,358.9 109.5,360.1 C110.33,361.3 111.18,362.95 112.4,364.4 C113.62,365.85 115.33,367.47 116.8,368.8 C118.27,370.13 119.98,371.43 121.2,372.4 C122.42,373.37 122.93,373.92 124.1,374.6 C125.27,375.28 127.02,375.97 128.2,376.5 C129.38,377.03 130.18,377.63 131.2,377.8 C132.22,377.97 133.02,377.33 134.3,377.5 C135.58,377.67 137.12,378.42 138.9,378.8 C140.68,379.18 143.15,379.55 145,379.8 C146.85,380.05 148.12,380.17 150,380.3 C151.88,380.43 153.8,380.48 156.3,380.6 C158.8,380.72 162.82,381 165,381 C167.18,381 166.62,380.6 169.4,380.6 C172.18,380.6 179.65,380.93 181.7,381 L181.7,381 L42.1,381 Z" fill="#de4b02" fill-opacity="0.3" stroke="none"/>
<path d="M42.1,381 C43.5,380.93 48.48,380.88 50.5,380.6 C52.52,380.32 53.08,380.22 54.2,379.3 C55.32,378.38 56.3,377.02 57.2,375.1 C58.1,373.18 58.9,370.62 59.6,367.8 C60.3,364.98 60.85,361.62 61.4,358.2 C61.95,354.78 62.47,350.67 62.9,347.3 C63.33,343.93 63.5,345.38 64,338 C64.5,330.62 65.33,312.43 65.9,303 C66.47,293.57 66.85,288.63 67.4,281.4 C67.95,274.17 68.47,266.87 69.2,259.6 C69.93,252.33 71,242.98 71.8,237.8 C72.6,232.62 73.17,230.8 74,228.5 C74.83,226.2 75.97,224.42 76.8,224 C77.63,223.58 78.38,223.7 79,226 C79.62,228.3 79.52,232.2 80.5,237.8 C81.48,243.4 83.55,252.33 84.9,259.6 C86.25,266.87 87.28,274.17 88.6,281.4 C89.92,288.63 91.62,296.67 92.8,303 C93.98,309.33 94.85,314.98 95.7,319.4 C96.55,323.82 97.17,326.35 97.9,329.5 C98.63,332.65 99.37,335.38 100.1,338.3 C100.83,341.22 101.58,344.58 102.3,347 C103.02,349.42 103.55,351.1 104.4,352.8 C105.25,354.5 106.55,355.98 107.4,357.2 C108.25,358.42 108.67,358.9 109.5,360.1 C110.33,361.3 111.18,362.95 112.4,364.4 C113.62,365.85 115.33,367.47 116.8,368.8 C118.27,370.13 119.98,371.43 121.2,372.4 C122.42,373.37 122.93,373.92 124.1,374.6 C125.27,375.28 127.02,375.97 128.2,376.5 C129.38,377.03 130.18,377.63 131.2,377.8 C132.22,377.97 133.02,377.33 134.3,377.5 C135.58,377.67 137.12,378.42 138.9,378.8 C140.68,379.18 143.15,379.55 145,379.8 C146.85,380.05 148.12,380.17 150,380.3 C151.88,380.43 153.8,380.48 156.3,380.6 C158.8,380.72 162.82,381 165,381 C167.18,381 166.62,380.6 169.4,380.6 C172.18,380.6 179.65,380.93 181.7,381" fill="none" stroke="#d95a16" stroke-width="1.5"/>
<line x1="66.6" y1="216.1" x2="66.6" y2="388.7" stroke="#d95a16" stroke-width="1.3" stroke-dasharray="4.6 4.66" stroke-dashoffset="-0.8"/>
<line x1="94.9" y1="216.1" x2="94.9" y2="388.7" stroke="#d95a16" stroke-width="1.3" stroke-dasharray="4.6 4.66" stroke-dashoffset="-0.8"/>
<line x1="74.2" y1="216.1" x2="74.2" y2="388.7" stroke="#2a74b8" stroke-width="1.3" stroke-dasharray="4.6 4.66" stroke-dashoffset="-0.8"/>
<line x1="102" y1="216.1" x2="102" y2="388.7" stroke="#2a74b8" stroke-width="1.3" stroke-dasharray="4.6 4.66" stroke-dashoffset="-0.8"/>
<line x1="80.8" y1="216.1" x2="80.8" y2="388.7" stroke="#d95a16" stroke-width="2.5"/>
<line x1="88.1" y1="216.1" x2="88.1" y2="388.7" stroke="#2a74b8" stroke-width="2.3"/>
</g>
<rect x="35.5" y="216.1" width="152.9" height="172.6" fill="none" stroke="#333333" stroke-width="1.25"/>
<line x1="42.1" y1="388.7" x2="42.1" y2="392.7" stroke="#333333" stroke-width="1.2"/>
<text stroke="#1a1a1a" stroke-width="0.12" transform="translate(42.1,402.4) scale(1,1.07)" text-anchor="middle" font-size="9.6" fill="#1a1a1a">0</text>
<line x1="88.5" y1="388.7" x2="88.5" y2="392.7" stroke="#333333" stroke-width="1.2"/>
<text stroke="#1a1a1a" stroke-width="0.12" transform="translate(88.5,402.4) scale(1,1.07)" text-anchor="middle" font-size="9.6" fill="#1a1a1a">2</text>
<line x1="134.9" y1="388.7" x2="134.9" y2="392.7" stroke="#333333" stroke-width="1.2"/>
<text stroke="#1a1a1a" stroke-width="0.12" transform="translate(134.9,402.4) scale(1,1.07)" text-anchor="middle" font-size="9.6" fill="#1a1a1a">4</text>
<line x1="181.3" y1="388.7" x2="181.3" y2="392.7" stroke="#333333" stroke-width="1.2"/>
<text stroke="#1a1a1a" stroke-width="0.12" transform="translate(181.3,402.4) scale(1,1.07)" text-anchor="middle" font-size="9.6" fill="#1a1a1a">6</text>
<line x1="31.5" y1="381" x2="35.5" y2="381" stroke="#333333" stroke-width="1.2"/>
<text stroke="#1a1a1a" stroke-width="0.12" transform="translate(28.3,384.3) scale(1,1.07)" text-anchor="end" font-size="9.6" fill="#1a1a1a">0.0</text>
<line x1="31.5" y1="341.35" x2="35.5" y2="341.35" stroke="#333333" stroke-width="1.2"/>
<text stroke="#1a1a1a" stroke-width="0.12" transform="translate(28.3,344.65) scale(1,1.07)" text-anchor="end" font-size="9.6" fill="#1a1a1a">0.2</text>
<line x1="31.5" y1="301.7" x2="35.5" y2="301.7" stroke="#333333" stroke-width="1.2"/>
<text stroke="#1a1a1a" stroke-width="0.12" transform="translate(28.3,305) scale(1,1.07)" text-anchor="end" font-size="9.6" fill="#1a1a1a">0.4</text>
<line x1="31.5" y1="262.05" x2="35.5" y2="262.05" stroke="#333333" stroke-width="1.2"/>
<text stroke="#1a1a1a" stroke-width="0.12" transform="translate(28.3,265.35) scale(1,1.07)" text-anchor="end" font-size="9.6" fill="#1a1a1a">0.6</text>
<line x1="31.5" y1="222.4" x2="35.5" y2="222.4" stroke="#333333" stroke-width="1.2"/>
<text stroke="#1a1a1a" stroke-width="0.12" transform="translate(28.3,225.7) scale(1,1.07)" text-anchor="end" font-size="9.6" fill="#1a1a1a">0.8</text>
<text stroke="#000" stroke-width="0.3" x="44.8" y="237.1" font-size="14" font-weight="bold" fill="#000">d</text>
<text stroke="#1a1a1a" stroke-width="0.3" x="111.95" y="410.9" text-anchor="middle" font-size="11.6" fill="#1a1a1a">slope</text>
<text transform="translate(8.4,302.4) rotate(-90)" text-anchor="middle" font-size="11.7" fill="#1a1a1a">density</text>
<text stroke="#1a1a1a" stroke-width="0.3" x="158.6" y="246.9" text-anchor="middle" font-size="17" fill="#1a1a1a">S<tspan font-size="11.5" dy="3">CO2</tspan></text>
<text stroke="#1a1a1a" stroke-width="0.3" x="158" y="306" text-anchor="middle" font-size="10.5" fill="#1a1a1a"><tspan font-style="italic">d</tspan> <tspan dx="0.9">=</tspan> <tspan dx="0.8">0.50</tspan></text>
<text stroke="#1a1a1a" stroke-width="0.3" x="158" y="324.6" text-anchor="middle" font-size="10.5" fill="#1a1a1a"><tspan font-style="italic">p</tspan> <tspan dx="0.6">&lt;</tspan> <tspan dx="0.8">0.001</tspan></text>
<clipPath id="clipe"><rect x="234.1" y="216.1" width="152.9" height="172.6"/></clipPath>
<g clip-path="url(#clipe)">
<path d="M241.1,381 C243.8,381 253.82,381.07 257.3,381 C260.78,380.93 260.45,380.85 262,380.6 C263.55,380.35 265.17,380.17 266.6,379.5 C268.03,378.83 269.27,378.42 270.6,376.6 C271.93,374.78 273.48,371.93 274.6,368.6 C275.72,365.27 276.52,360.82 277.3,356.6 C278.08,352.38 278.63,347.73 279.3,343.3 C279.97,338.87 280.73,333.57 281.3,330 C281.87,326.43 282.12,325.72 282.7,321.9 C283.28,318.08 283.75,313.18 284.8,307.1 C285.85,301.02 287.93,290.83 289,285.4 C290.07,279.97 290.37,278.13 291.2,274.5 C292.03,270.87 293.02,266.87 294,263.6 C294.98,260.33 296.12,254.9 297.1,254.9 C298.08,254.9 298.88,260.33 299.9,263.6 C300.92,266.87 302.22,270.87 303.2,274.5 C304.18,278.13 304.75,281.15 305.8,285.4 C306.85,289.65 308.37,295.52 309.5,300 C310.63,304.48 311.57,308.18 312.6,312.3 C313.63,316.42 314.5,320.58 315.7,324.7 C316.9,328.82 318.42,332.88 319.8,337 C321.18,341.12 322.45,345.62 324,349.4 C325.55,353.18 327.4,356.62 329.1,359.7 C330.8,362.78 332.15,365.33 334.2,367.9 C336.25,370.47 338.82,373.38 341.4,375.1 C343.98,376.82 346.6,377.45 349.7,378.2 C352.8,378.95 354.95,379.2 360,379.6 C365.05,380 376.67,380.43 380,380.6 L380,381 L241.1,381 Z" fill="#2070b9" fill-opacity="0.3" stroke="none"/>
<path d="M241.1,381 C243.8,381 253.82,381.07 257.3,381 C260.78,380.93 260.45,380.85 262,380.6 C263.55,380.35 265.17,380.17 266.6,379.5 C268.03,378.83 269.27,378.42 270.6,376.6 C271.93,374.78 273.48,371.93 274.6,368.6 C275.72,365.27 276.52,360.82 277.3,356.6 C278.08,352.38 278.63,347.73 279.3,343.3 C279.97,338.87 280.73,333.57 281.3,330 C281.87,326.43 282.12,325.72 282.7,321.9 C283.28,318.08 283.75,313.18 284.8,307.1 C285.85,301.02 287.93,290.83 289,285.4 C290.07,279.97 290.37,278.13 291.2,274.5 C292.03,270.87 293.02,266.87 294,263.6 C294.98,260.33 296.12,254.9 297.1,254.9 C298.08,254.9 298.88,260.33 299.9,263.6 C300.92,266.87 302.22,270.87 303.2,274.5 C304.18,278.13 304.75,281.15 305.8,285.4 C306.85,289.65 308.37,295.52 309.5,300 C310.63,304.48 311.57,308.18 312.6,312.3 C313.63,316.42 314.5,320.58 315.7,324.7 C316.9,328.82 318.42,332.88 319.8,337 C321.18,341.12 322.45,345.62 324,349.4 C325.55,353.18 327.4,356.62 329.1,359.7 C330.8,362.78 332.15,365.33 334.2,367.9 C336.25,370.47 338.82,373.38 341.4,375.1 C343.98,376.82 346.6,377.45 349.7,378.2 C352.8,378.95 354.95,379.2 360,379.6 C365.05,380 376.67,380.43 380,380.6" fill="none" stroke="#2a74b8" stroke-width="1.5"/>
<path d="M241.1,381 C242.25,380.98 245.97,380.97 248,380.9 C250.03,380.83 251.75,381.08 253.3,380.6 C254.85,380.12 256.18,379.77 257.3,378 C258.42,376.23 259.22,373.57 260,370 C260.78,366.43 261.45,361.05 262,356.6 C262.55,352.15 262.87,347.73 263.3,343.3 C263.73,338.87 264.18,333.57 264.6,330 C265.02,326.43 265.37,325.72 265.8,321.9 C266.23,318.08 266.67,313.18 267.2,307.1 C267.73,301.02 268.45,292.65 269,285.4 C269.55,278.15 269.82,270.87 270.5,263.6 C271.18,256.33 272.27,247.57 273.1,241.8 C273.93,236.03 274.65,231.97 275.5,229 C276.35,226.03 277.4,224 278.2,224 C279,224 279.58,226.03 280.3,229 C281.02,231.97 281.48,236.03 282.5,241.8 C283.52,247.57 285.23,256.33 286.4,263.6 C287.57,270.87 288.73,279.33 289.5,285.4 C290.27,291.47 290.23,294.13 291,300 C291.77,305.87 293.07,314.43 294.1,320.6 C295.13,326.77 296.17,332.2 297.2,337 C298.23,341.8 299.1,345.28 300.3,349.4 C301.5,353.52 302.87,358.1 304.4,361.7 C305.93,365.3 307.78,368.77 309.5,371 C311.22,373.23 312.8,374.07 314.7,375.1 C316.6,376.13 318.15,376.52 320.9,377.2 C323.65,377.88 327.43,378.7 331.2,379.2 C334.97,379.7 338.7,379.97 343.5,380.2 C348.3,380.43 353.92,380.5 360,380.6 C366.08,380.7 376.67,380.77 380,380.8 L380,381 L241.1,381 Z" fill="#de4b02" fill-opacity="0.3" stroke="none"/>
<path d="M241.1,381 C242.25,380.98 245.97,380.97 248,380.9 C250.03,380.83 251.75,381.08 253.3,380.6 C254.85,380.12 256.18,379.77 257.3,378 C258.42,376.23 259.22,373.57 260,370 C260.78,366.43 261.45,361.05 262,356.6 C262.55,352.15 262.87,347.73 263.3,343.3 C263.73,338.87 264.18,333.57 264.6,330 C265.02,326.43 265.37,325.72 265.8,321.9 C266.23,318.08 266.67,313.18 267.2,307.1 C267.73,301.02 268.45,292.65 269,285.4 C269.55,278.15 269.82,270.87 270.5,263.6 C271.18,256.33 272.27,247.57 273.1,241.8 C273.93,236.03 274.65,231.97 275.5,229 C276.35,226.03 277.4,224 278.2,224 C279,224 279.58,226.03 280.3,229 C281.02,231.97 281.48,236.03 282.5,241.8 C283.52,247.57 285.23,256.33 286.4,263.6 C287.57,270.87 288.73,279.33 289.5,285.4 C290.27,291.47 290.23,294.13 291,300 C291.77,305.87 293.07,314.43 294.1,320.6 C295.13,326.77 296.17,332.2 297.2,337 C298.23,341.8 299.1,345.28 300.3,349.4 C301.5,353.52 302.87,358.1 304.4,361.7 C305.93,365.3 307.78,368.77 309.5,371 C311.22,373.23 312.8,374.07 314.7,375.1 C316.6,376.13 318.15,376.52 320.9,377.2 C323.65,377.88 327.43,378.7 331.2,379.2 C334.97,379.7 338.7,379.97 343.5,380.2 C348.3,380.43 353.92,380.5 360,380.6 C366.08,380.7 376.67,380.77 380,380.8" fill="none" stroke="#d95a16" stroke-width="1.5"/>
<line x1="268.5" y1="216.1" x2="268.5" y2="388.7" stroke="#d95a16" stroke-width="1.3" stroke-dasharray="4.6 4.66" stroke-dashoffset="-0.8"/>
<line x1="292.2" y1="216.1" x2="292.2" y2="388.7" stroke="#d95a16" stroke-width="1.3" stroke-dasharray="4.6 4.66" stroke-dashoffset="-0.8"/>
<line x1="284.5" y1="216.1" x2="284.5" y2="388.7" stroke="#2a74b8" stroke-width="1.3" stroke-dasharray="4.6 4.66" stroke-dashoffset="-0.8"/>
<line x1="314.3" y1="216.1" x2="314.3" y2="388.7" stroke="#2a74b8" stroke-width="1.3" stroke-dasharray="4.6 4.66" stroke-dashoffset="-0.8"/>
<line x1="280.3" y1="216.1" x2="280.3" y2="388.7" stroke="#d95a16" stroke-width="2.5"/>
<line x1="299.4" y1="216.1" x2="299.4" y2="388.7" stroke="#2a74b8" stroke-width="2.3"/>
</g>
<rect x="234.1" y="216.1" width="152.9" height="172.6" fill="none" stroke="#333333" stroke-width="1.25"/>
<line x1="241.1" y1="388.7" x2="241.1" y2="392.7" stroke="#333333" stroke-width="1.2"/>
<text stroke="#1a1a1a" stroke-width="0.12" transform="translate(241.1,402.4) scale(1,1.07)" text-anchor="middle" font-size="9.6" fill="#1a1a1a">0</text>
<line x1="287.4" y1="388.7" x2="287.4" y2="392.7" stroke="#333333" stroke-width="1.2"/>
<text stroke="#1a1a1a" stroke-width="0.12" transform="translate(287.4,402.4) scale(1,1.07)" text-anchor="middle" font-size="9.6" fill="#1a1a1a">1</text>
<line x1="333.7" y1="388.7" x2="333.7" y2="392.7" stroke="#333333" stroke-width="1.2"/>
<text stroke="#1a1a1a" stroke-width="0.12" transform="translate(333.7,402.4) scale(1,1.07)" text-anchor="middle" font-size="9.6" fill="#1a1a1a">2</text>
<line x1="380" y1="388.7" x2="380" y2="392.7" stroke="#333333" stroke-width="1.2"/>
<text stroke="#1a1a1a" stroke-width="0.12" transform="translate(380,402.4) scale(1,1.07)" text-anchor="middle" font-size="9.6" fill="#1a1a1a">3</text>
<line x1="230.1" y1="381" x2="234.1" y2="381" stroke="#333333" stroke-width="1.2"/>
<text stroke="#1a1a1a" stroke-width="0.12" transform="translate(226.9,384.3) scale(1,1.07)" text-anchor="end" font-size="9.6" fill="#1a1a1a">0.0</text>
<line x1="230.1" y1="336.44" x2="234.1" y2="336.44" stroke="#333333" stroke-width="1.2"/>
<text stroke="#1a1a1a" stroke-width="0.12" transform="translate(226.9,339.74) scale(1,1.07)" text-anchor="end" font-size="9.6" fill="#1a1a1a">0.5</text>
<line x1="230.1" y1="291.87" x2="234.1" y2="291.87" stroke="#333333" stroke-width="1.2"/>
<text stroke="#1a1a1a" stroke-width="0.12" transform="translate(226.9,295.17) scale(1,1.07)" text-anchor="end" font-size="9.6" fill="#1a1a1a">1.0</text>
<line x1="230.1" y1="247.31" x2="234.1" y2="247.31" stroke="#333333" stroke-width="1.2"/>
<text stroke="#1a1a1a" stroke-width="0.12" transform="translate(226.9,250.61) scale(1,1.07)" text-anchor="end" font-size="9.6" fill="#1a1a1a">1.5</text>
<text stroke="#000" stroke-width="0.3" x="246.3" y="234.6" font-size="14" font-weight="bold" fill="#000">e</text>
<text stroke="#1a1a1a" stroke-width="0.3" x="310.55" y="410.9" text-anchor="middle" font-size="11.6" fill="#1a1a1a">slope</text>
<text transform="translate(207,302.4) rotate(-90)" text-anchor="middle" font-size="11.7" fill="#1a1a1a">density</text>
<text stroke="#1a1a1a" stroke-width="0.3" x="356.9" y="251.3" text-anchor="middle" font-size="17" fill="#1a1a1a">S<tspan font-size="11.5" dy="3">CO2,LI</tspan></text>
<text stroke="#1a1a1a" stroke-width="0.3" x="356.6" y="322.6" text-anchor="middle" font-size="10.5" fill="#1a1a1a"><tspan font-style="italic">d</tspan> <tspan dx="0.9">=</tspan> <tspan dx="0.8">1.34</tspan></text>
<text stroke="#1a1a1a" stroke-width="0.3" x="356.6" y="339.3" text-anchor="middle" font-size="10.5" fill="#1a1a1a"><tspan font-style="italic">p</tspan> <tspan dx="0.6">&lt;</tspan> <tspan dx="0.8">0.001</tspan></text>
<clipPath id="clipf"><rect x="432.7" y="216.1" width="153" height="172.6"/></clipPath>
<g clip-path="url(#clipf)">
<path d="M439.9,380.7 C441.48,380.68 447.02,380.75 449.4,380.6 C451.78,380.45 452.62,380.45 454.2,379.8 C455.78,379.15 457.47,378.8 458.9,376.7 C460.33,374.6 461.75,371.4 462.8,367.2 C463.85,363 464.53,356.75 465.2,351.5 C465.87,346.25 466.28,340.95 466.8,335.7 C467.32,330.45 467.68,325.6 468.3,320 C468.92,314.4 469.85,308.7 470.5,302.1 C471.15,295.5 471.55,287.65 472.2,280.4 C472.85,273.15 473.67,265.87 474.4,258.6 C475.13,251.33 475.67,242.07 476.6,236.8 C477.53,231.53 478.83,229.18 480,227 C481.17,224.82 482.68,223.53 483.6,223.7 C484.52,223.87 484.97,225.82 485.5,228 C486.03,230.18 485.97,231.7 486.8,236.8 C487.63,241.9 489.38,251.33 490.5,258.6 C491.62,265.87 492.5,273.25 493.5,280.4 C494.5,287.55 495.42,295.3 496.5,301.5 C497.58,307.7 498.85,312.62 500,317.6 C501.15,322.58 502.07,326.8 503.4,331.4 C504.73,336 506.28,340.6 508,345.2 C509.72,349.8 511.78,354.78 513.7,359 C515.62,363.22 517,367.63 519.5,370.5 C522,373.37 524.87,374.75 528.7,376.2 C532.53,377.65 537.52,378.52 542.5,379.2 C547.48,379.88 552.47,380.03 558.6,380.3 C564.73,380.57 575.85,380.72 579.3,380.8 L579.3,380.7 L439.9,380.7 Z" fill="#2070b9" fill-opacity="0.3" stroke="none"/>
<path d="M439.9,380.7 C441.48,380.68 447.02,380.75 449.4,380.6 C451.78,380.45 452.62,380.45 454.2,379.8 C455.78,379.15 457.47,378.8 458.9,376.7 C460.33,374.6 461.75,371.4 462.8,367.2 C463.85,363 464.53,356.75 465.2,351.5 C465.87,346.25 466.28,340.95 466.8,335.7 C467.32,330.45 467.68,325.6 468.3,320 C468.92,314.4 469.85,308.7 470.5,302.1 C471.15,295.5 471.55,287.65 472.2,280.4 C472.85,273.15 473.67,265.87 474.4,258.6 C475.13,251.33 475.67,242.07 476.6,236.8 C477.53,231.53 478.83,229.18 480,227 C481.17,224.82 482.68,223.53 483.6,223.7 C484.52,223.87 484.97,225.82 485.5,228 C486.03,230.18 485.97,231.7 486.8,236.8 C487.63,241.9 489.38,251.33 490.5,258.6 C491.62,265.87 492.5,273.25 493.5,280.4 C494.5,287.55 495.42,295.3 496.5,301.5 C497.58,307.7 498.85,312.62 500,317.6 C501.15,322.58 502.07,326.8 503.4,331.4 C504.73,336 506.28,340.6 508,345.2 C509.72,349.8 511.78,354.78 513.7,359 C515.62,363.22 517,367.63 519.5,370.5 C522,373.37 524.87,374.75 528.7,376.2 C532.53,377.65 537.52,378.52 542.5,379.2 C547.48,379.88 552.47,380.03 558.6,380.3 C564.73,380.57 575.85,380.72 579.3,380.8" fill="none" stroke="#2a74b8" stroke-width="1.5"/>
<path d="M439.9,380.7 C440.92,380.68 444.15,380.67 446,380.6 C447.85,380.53 449.38,380.95 451,380.3 C452.62,379.65 454.25,378.88 455.7,376.7 C457.15,374.52 458.65,371.4 459.7,367.2 C460.75,363 461.35,356.75 462,351.5 C462.65,346.25 463.1,340.95 463.6,335.7 C464.1,330.45 464.63,325.6 465,320 C465.37,314.4 465.32,308.7 465.8,302.1 C466.28,295.5 467.2,287.65 467.9,280.4 C468.6,273.15 469.2,265.87 470,258.6 C470.8,251.33 471.88,241.6 472.7,236.8 C473.52,232 474.18,230.77 474.9,229.8 C475.62,228.83 476.47,229.83 477,231 C477.53,232.17 477.08,232.2 478.1,236.8 C479.12,241.4 481.53,251.33 483.1,258.6 C484.67,265.87 486.42,275.17 487.5,280.4 C488.58,285.63 488.68,285.33 489.6,290 C490.52,294.67 491.85,302.65 493,308.4 C494.15,314.15 495.33,319.9 496.5,324.5 C497.67,329.1 498.67,332.17 500,336 C501.33,339.83 502.78,343.67 504.5,347.5 C506.22,351.33 508.55,355.92 510.3,359 C512.05,362.08 513.47,363.9 515,366 C516.53,368.1 517.22,369.9 519.5,371.6 C521.78,373.3 524.87,374.93 528.7,376.2 C532.53,377.47 537.52,378.52 542.5,379.2 C547.48,379.88 552.47,380.03 558.6,380.3 C564.73,380.57 575.85,380.72 579.3,380.8 L579.3,380.7 L439.9,380.7 Z" fill="#de4b02" fill-opacity="0.3" stroke="none"/>
<path d="M439.9,380.7 C440.92,380.68 444.15,380.67 446,380.6 C447.85,380.53 449.38,380.95 451,380.3 C452.62,379.65 454.25,378.88 455.7,376.7 C457.15,374.52 458.65,371.4 459.7,367.2 C460.75,363 461.35,356.75 462,351.5 C462.65,346.25 463.1,340.95 463.6,335.7 C464.1,330.45 464.63,325.6 465,320 C465.37,314.4 465.32,308.7 465.8,302.1 C466.28,295.5 467.2,287.65 467.9,280.4 C468.6,273.15 469.2,265.87 470,258.6 C470.8,251.33 471.88,241.6 472.7,236.8 C473.52,232 474.18,230.77 474.9,229.8 C475.62,228.83 476.47,229.83 477,231 C477.53,232.17 477.08,232.2 478.1,236.8 C479.12,241.4 481.53,251.33 483.1,258.6 C484.67,265.87 486.42,275.17 487.5,280.4 C488.58,285.63 488.68,285.33 489.6,290 C490.52,294.67 491.85,302.65 493,308.4 C494.15,314.15 495.33,319.9 496.5,324.5 C497.67,329.1 498.67,332.17 500,336 C501.33,339.83 502.78,343.67 504.5,347.5 C506.22,351.33 508.55,355.92 510.3,359 C512.05,362.08 513.47,363.9 515,366 C516.53,368.1 517.22,369.9 519.5,371.6 C521.78,373.3 524.87,374.93 528.7,376.2 C532.53,377.47 537.52,378.52 542.5,379.2 C547.48,379.88 552.47,380.03 558.6,380.3 C564.73,380.57 575.85,380.72 579.3,380.8" fill="none" stroke="#d95a16" stroke-width="1.5"/>
<line x1="465.7" y1="216.1" x2="465.7" y2="388.7" stroke="#d95a16" stroke-width="1.3" stroke-dasharray="4.6 4.66" stroke-dashoffset="-0.8"/>
<line x1="495" y1="216.1" x2="495" y2="388.7" stroke="#d95a16" stroke-width="1.3" stroke-dasharray="4.6 4.66" stroke-dashoffset="-0.8"/>
<line x1="471.3" y1="216.1" x2="471.3" y2="388.7" stroke="#2a74b8" stroke-width="1.3" stroke-dasharray="4.6 4.66" stroke-dashoffset="-0.8"/>
<line x1="498.2" y1="216.1" x2="498.2" y2="388.7" stroke="#2a74b8" stroke-width="1.3" stroke-dasharray="4.6 4.66" stroke-dashoffset="-0.8"/>
<line x1="480.2" y1="216.1" x2="480.2" y2="388.7" stroke="#d95a16" stroke-width="2.5"/>
<line x1="485" y1="216.1" x2="485" y2="388.7" stroke="#2a74b8" stroke-width="2.3"/>
</g>
<rect x="432.7" y="216.1" width="153" height="172.6" fill="none" stroke="#333333" stroke-width="1.25"/>
<line x1="439.9" y1="388.7" x2="439.9" y2="392.7" stroke="#333333" stroke-width="1.2"/>
<text stroke="#1a1a1a" stroke-width="0.12" transform="translate(439.9,402.4) scale(1,1.07)" text-anchor="middle" font-size="9.6" fill="#1a1a1a">0</text>
<line x1="486.2" y1="388.7" x2="486.2" y2="392.7" stroke="#333333" stroke-width="1.2"/>
<text stroke="#1a1a1a" stroke-width="0.12" transform="translate(486.2,402.4) scale(1,1.07)" text-anchor="middle" font-size="9.6" fill="#1a1a1a">1</text>
<line x1="532.5" y1="388.7" x2="532.5" y2="392.7" stroke="#333333" stroke-width="1.2"/>
<text stroke="#1a1a1a" stroke-width="0.12" transform="translate(532.5,402.4) scale(1,1.07)" text-anchor="middle" font-size="9.6" fill="#1a1a1a">2</text>
<line x1="578.8" y1="388.7" x2="578.8" y2="392.7" stroke="#333333" stroke-width="1.2"/>
<text stroke="#1a1a1a" stroke-width="0.12" transform="translate(578.8,402.4) scale(1,1.07)" text-anchor="middle" font-size="9.6" fill="#1a1a1a">3</text>
<line x1="428.7" y1="380.7" x2="432.7" y2="380.7" stroke="#333333" stroke-width="1.2"/>
<text stroke="#1a1a1a" stroke-width="0.12" transform="translate(425.5,384) scale(1,1.07)" text-anchor="end" font-size="9.6" fill="#1a1a1a">0.0</text>
<line x1="428.7" y1="330.96" x2="432.7" y2="330.96" stroke="#333333" stroke-width="1.2"/>
<text stroke="#1a1a1a" stroke-width="0.12" transform="translate(425.5,334.26) scale(1,1.07)" text-anchor="end" font-size="9.6" fill="#1a1a1a">0.5</text>
<line x1="428.7" y1="281.23" x2="432.7" y2="281.23" stroke="#333333" stroke-width="1.2"/>
<text stroke="#1a1a1a" stroke-width="0.12" transform="translate(425.5,284.53) scale(1,1.07)" text-anchor="end" font-size="9.6" fill="#1a1a1a">1.0</text>
<line x1="428.7" y1="231.5" x2="432.7" y2="231.5" stroke="#333333" stroke-width="1.2"/>
<text stroke="#1a1a1a" stroke-width="0.12" transform="translate(425.5,234.8) scale(1,1.07)" text-anchor="end" font-size="9.6" fill="#1a1a1a">1.5</text>
<text stroke="#000" stroke-width="0.3" x="446.3" y="236" font-size="14" font-weight="bold" fill="#000">f</text>
<text stroke="#1a1a1a" stroke-width="0.3" x="509.2" y="410.9" text-anchor="middle" font-size="11.6" fill="#1a1a1a">slope</text>
<text transform="translate(405.6,302.4) rotate(-90)" text-anchor="middle" font-size="11.7" fill="#1a1a1a">density</text>
<text stroke="#1a1a1a" stroke-width="0.3" x="555.9" y="245.6" text-anchor="middle" font-size="17" fill="#1a1a1a">S<tspan font-size="11.5" dy="3">total</tspan></text>
<text stroke="#1a1a1a" stroke-width="0.3" x="555.5" y="314.7" text-anchor="middle" font-size="10.5" fill="#1a1a1a"><tspan font-style="italic">d</tspan> <tspan dx="0.9">=</tspan> <tspan dx="0.8">0.29</tspan></text>
<text stroke="#1a1a1a" stroke-width="0.3" x="555.5" y="333.6" text-anchor="middle" font-size="10.5" fill="#1a1a1a"><tspan font-style="italic">p</tspan> <tspan dx="0.6">&lt;</tspan> <tspan dx="0.8">0.001</tspan></text>
<circle cx="601.2" cy="10.5" r="4.0" fill="#f7fbff" stroke="#222" stroke-width="1"/>
<circle cx="615.4" cy="10.5" r="4.0" fill="#fff5eb" stroke="#222" stroke-width="1"/>
<text stroke="#1a1a1a" stroke-width="0.3" x="631" y="14.3" font-size="11.2" fill="#1a1a1a">0.3-0.0 Ma</text>
<circle cx="601.2" cy="29.94" r="4.0" fill="#deebf7" stroke="#222" stroke-width="1"/>
<circle cx="615.4" cy="29.94" r="4.0" fill="#fee6ce" stroke="#222" stroke-width="1"/>
<text stroke="#1a1a1a" stroke-width="0.3" x="631" y="33.74" font-size="11.2" fill="#1a1a1a">0.6-0.3 Ma</text>
<circle cx="601.2" cy="49.38" r="4.0" fill="#c6dbef" stroke="#222" stroke-width="1"/>
<circle cx="615.4" cy="49.38" r="4.0" fill="#fdd0a2" stroke="#222" stroke-width="1"/>
<text stroke="#1a1a1a" stroke-width="0.3" x="631" y="53.18" font-size="11.2" fill="#1a1a1a">0.9-0.6 Ma</text>
<circle cx="601.2" cy="68.82" r="4.0" fill="#9ecae1" stroke="#222" stroke-width="1"/>
<circle cx="615.4" cy="68.82" r="4.0" fill="#fdae6b" stroke="#222" stroke-width="1"/>
<text stroke="#1a1a1a" stroke-width="0.3" x="631" y="72.62" font-size="11.2" fill="#1a1a1a">1.2-0.9 Ma</text>
<circle cx="601.2" cy="88.26" r="4.0" fill="#6baed6" stroke="#222" stroke-width="1"/>
<circle cx="615.4" cy="88.26" r="4.0" fill="#fd8d3c" stroke="#222" stroke-width="1"/>
<text stroke="#1a1a1a" stroke-width="0.3" x="631" y="92.06" font-size="11.2" fill="#1a1a1a">1.5-1.2 Ma</text>
<circle cx="601.2" cy="107.7" r="4.0" fill="#4292c6" stroke="#222" stroke-width="1"/>
<circle cx="615.4" cy="107.7" r="4.0" fill="#f16913" stroke="#222" stroke-width="1"/>
<text stroke="#1a1a1a" stroke-width="0.3" x="631" y="111.5" font-size="11.2" fill="#1a1a1a">1.8-1.5 Ma</text>
<circle cx="601.2" cy="127.14" r="4.0" fill="#2171b5" stroke="#222" stroke-width="1"/>
<circle cx="615.4" cy="127.14" r="4.0" fill="#d94801" stroke="#222" stroke-width="1"/>
<text stroke="#1a1a1a" stroke-width="0.3" x="631" y="130.94" font-size="11.2" fill="#1a1a1a">2.1-1.8 Ma</text>
<circle cx="601.2" cy="146.58" r="4.0" fill="#08519c" stroke="#222" stroke-width="1"/>
<circle cx="615.4" cy="146.58" r="4.0" fill="#a63603" stroke="#222" stroke-width="1"/>
<text stroke="#1a1a1a" stroke-width="0.3" x="631" y="150.38" font-size="11.2" fill="#1a1a1a">2.4-2.1 Ma</text>
<circle cx="601.2" cy="166.02" r="4.0" fill="#08306b" stroke="#222" stroke-width="1"/>
<circle cx="615.4" cy="166.02" r="4.0" fill="#7f2704" stroke="#222" stroke-width="1"/>
<text stroke="#1a1a1a" stroke-width="0.3" x="631" y="169.82" font-size="11.2" fill="#1a1a1a">2.7-2.4 Ma</text>
</svg></body></html>
